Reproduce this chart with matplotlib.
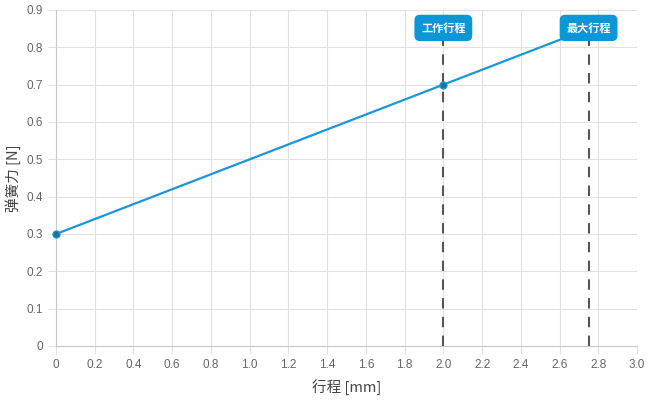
import matplotlib
matplotlib.use("Agg")
import matplotlib.pyplot as plt

plt.rcParams['font.family'] = ['Noto Sans CJK SC', 'DejaVu Sans']

stroke = [0, 2.0, 2.75]
force = [0.3, 0.7, 0.85]
markers = [("工作行程", 2.0), ("最大行程", 2.75)]
x_ticks = [0, 0.2, 0.4, 0.6, 0.8, 1.0, 1.2, 1.4, 1.6, 1.8, 2.0, 2.2, 2.4, 2.6, 2.8, 3.0]
x_tick_labels = ["0"] + [f"{v:.1f}" for v in x_ticks[1:]]
y_ticks = [0, 0.1, 0.2, 0.3, 0.4, 0.5, 0.6, 0.7, 0.8, 0.9]
y_tick_labels = ["0"] + [f"{v:.1f}" for v in y_ticks[1:]]

fig = plt.figure(figsize=(6.5, 4), dpi=100)
ax = fig.add_axes([0.0862, 0.135, 0.8938, 0.84])

ax.plot(stroke, force, color="#1a96d9", lw=1.6, marker="o", ms=5,
        markerfacecolor="#1f6fa0", markeredgecolor="#1a96d9", zorder=3, clip_on=False)

for name, xv in markers:
    ax.axvline(xv, color="#555555", lw=1.5, ls=(0, (5, 4)), zorder=2)
    ax.text(xv, 0.852, name, ha="center", va="center", color="white",
            fontsize=8, fontweight="bold", zorder=5,
            bbox=dict(boxstyle="round,pad=0.6,rounding_size=0.5",
                      fc="#0b96d6", ec="none"))

ax.set_xlim(0, 3.0)
ax.set_ylim(0, 0.9)
ax.set_xticks(x_ticks)
ax.set_xticklabels(x_tick_labels, family="Liberation Sans")
ax.set_yticks(y_ticks)
ax.set_yticklabels(y_tick_labels, family="Liberation Sans")
ax.grid(True, color="#e2e2e2", lw=0.8)
ax.set_axisbelow(True)
for s in ["top", "right"]:
    ax.spines[s].set_visible(False)
for s in ["left", "bottom"]:
    ax.spines[s].set_color("#c8c8c8")
ax.tick_params(colors="#e2e2e2", labelcolor="#666666", labelsize=8.5, length=6, width=0.8)
ax.set_xlabel("行程 [mm]", fontsize=10.5, color="#444444", labelpad=6)
ax.set_ylabel("弹簧力 [N]", fontsize=10.5, color="#444444", labelpad=4)

fig.savefig("out.png", dpi=100)
